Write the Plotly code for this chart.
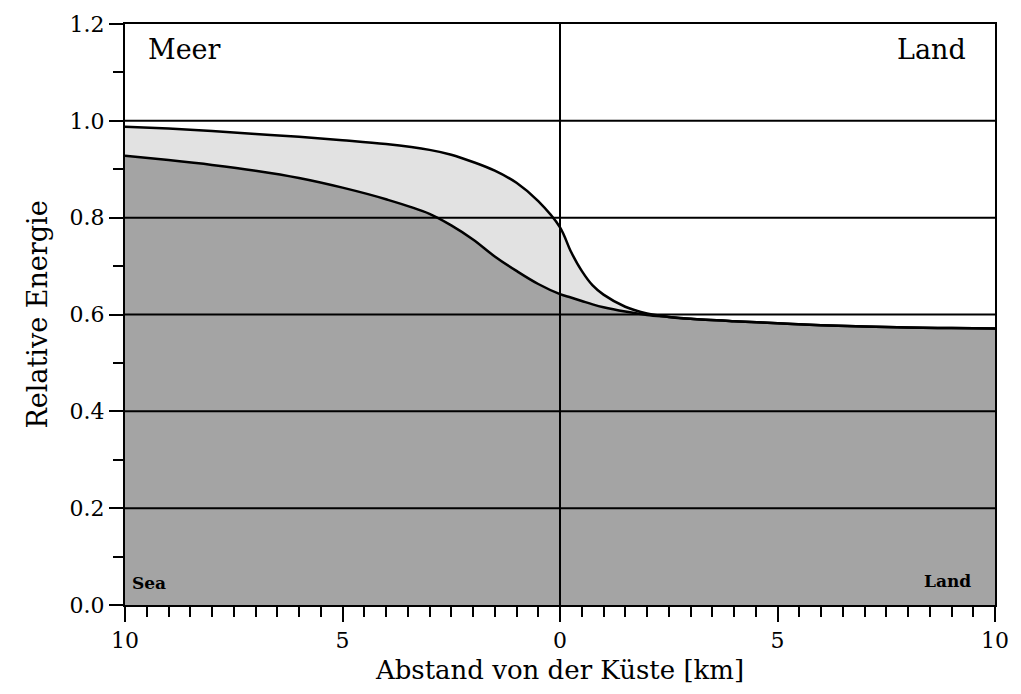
import plotly.graph_objects as go

# Distance from coast [km] (negative = sea side, positive = land side)
x_km = [-10, -9, -8, -7, -6, -5, -4, -3, -2.5, -2, -1.5, -1, -0.5, 0,
        0.25, 0.5, 0.75, 1, 1.5, 2, 2.5, 3, 4, 5, 6, 7, 8, 9, 10]
upper = [0.988, 0.984, 0.979, 0.973, 0.967, 0.960, 0.952, 0.940, 0.930, 0.915,
         0.897, 0.872, 0.834, 0.780, 0.730, 0.690, 0.660, 0.641, 0.616, 0.602,
         0.595, 0.591, 0.586, 0.582, 0.578, 0.575, 0.573, 0.572, 0.571]
lower = [0.928, 0.919, 0.909, 0.897, 0.882, 0.862, 0.838, 0.808, 0.784, 0.755,
         0.720, 0.690, 0.663, 0.642, 0.635, 0.628, 0.621, 0.615, 0.606, 0.599,
         0.595, 0.591, 0.586, 0.582, 0.578, 0.575, 0.573, 0.572, 0.571]

x_tickvals = [-10, -5, 0, 5, 10]
x_ticktext = ["10", "5", "0", "5", "10"]
y_tickvals = [0.0, 0.2, 0.4, 0.6, 0.8, 1.0, 1.2]
y_ticktext = ["0.0", "0.2", "0.4", "0.6", "0.8", "1.0", "1.2"]
grid_y = [0.2, 0.4, 0.6, 0.8, 1.0]
grid_x = [0]

FONT = "DejaVu Serif"

fig = go.Figure()
fig.add_trace(go.Scatter(x=x_km, y=lower, mode="lines", line=dict(color="black", width=2.5, shape="spline"),
                         fill="tozeroy", fillcolor="#a4a4a4", showlegend=False, hoverinfo="skip"))
fig.add_trace(go.Scatter(x=x_km, y=upper, mode="lines", line=dict(color="black", width=2.5, shape="spline"),
                         fill="tonexty", fillcolor="#e2e2e2", showlegend=False, hoverinfo="skip"))

for gy in grid_y:
    fig.add_shape(type="line", xref="x", yref="y", x0=-10, x1=10, y0=gy, y1=gy,
                  line=dict(color="black", width=2), layer="above")
for gx in grid_x:
    fig.add_shape(type="line", xref="x", yref="y", x0=gx, x1=gx, y0=0, y1=1.2,
                  line=dict(color="black", width=2), layer="above")

fig.add_annotation(x=-10, y=1.2, xref="x", yref="y", text="Meer", showarrow=False,
                   xanchor="left", yanchor="top", xshift=21, yshift=-8,
                   font=dict(family=FONT, size=27, color="black"))
fig.add_annotation(x=10, y=1.2, xref="x", yref="y", text="Land", showarrow=False,
                   xanchor="right", yanchor="top", xshift=-27, yshift=-8,
                   font=dict(family=FONT, size=27, color="black"))
fig.add_annotation(x=-10, y=0, xref="x", yref="y", text="<b>Sea</b>", showarrow=False,
                   xanchor="left", yanchor="bottom", xshift=5, yshift=10,
                   font=dict(family=FONT, size=17, color="black"))
fig.add_annotation(x=10, y=0, xref="x", yref="y", text="<b>Land</b>", showarrow=False,
                   xanchor="right", yanchor="bottom", xshift=-22, yshift=12,
                   font=dict(family=FONT, size=17, color="black"))

fig.update_layout(
    width=1021, height=694,
    margin=dict(l=125, r=21, t=20, b=89),
    paper_bgcolor="white", plot_bgcolor="white",
    font=dict(family=FONT, size=22, color="black"),
    showlegend=False,
)
fig.update_xaxes(
    range=[-10, 10], tickmode="array", tickvals=x_tickvals, ticktext=x_ticktext,
    ticks="outside", ticklen=15, tickwidth=2, tickcolor="black",
    minor=dict(dtick=0.5, ticks="outside", ticklen=10, tickwidth=2, tickcolor="black", showgrid=False),
    showgrid=False, zeroline=False, showline=True, linecolor="black", linewidth=2, mirror=True,
    tickfont=dict(family=FONT, size=22),
    title=dict(text="Abstand von der Küste [km]", font=dict(family=FONT, size=26), standoff=8),
)
fig.update_yaxes(
    range=[0, 1.2], tickmode="array", tickvals=y_tickvals, ticktext=y_ticktext,
    ticks="outside", ticklen=14, tickwidth=2, tickcolor="black",
    minor=dict(dtick=0.1, ticks="outside", ticklen=10, tickwidth=2, tickcolor="black", showgrid=False),
    showgrid=False, zeroline=False, showline=True, linecolor="black", linewidth=2, mirror=True,
    tickfont=dict(family=FONT, size=22),
    title=dict(text="Relative Energie", font=dict(family=FONT, size=27), standoff=14),
)

fig.write_html("out.html", config={"displayModeBar": False},
               post_script="document.body.style.margin='0';document.body.style.padding='0';")
